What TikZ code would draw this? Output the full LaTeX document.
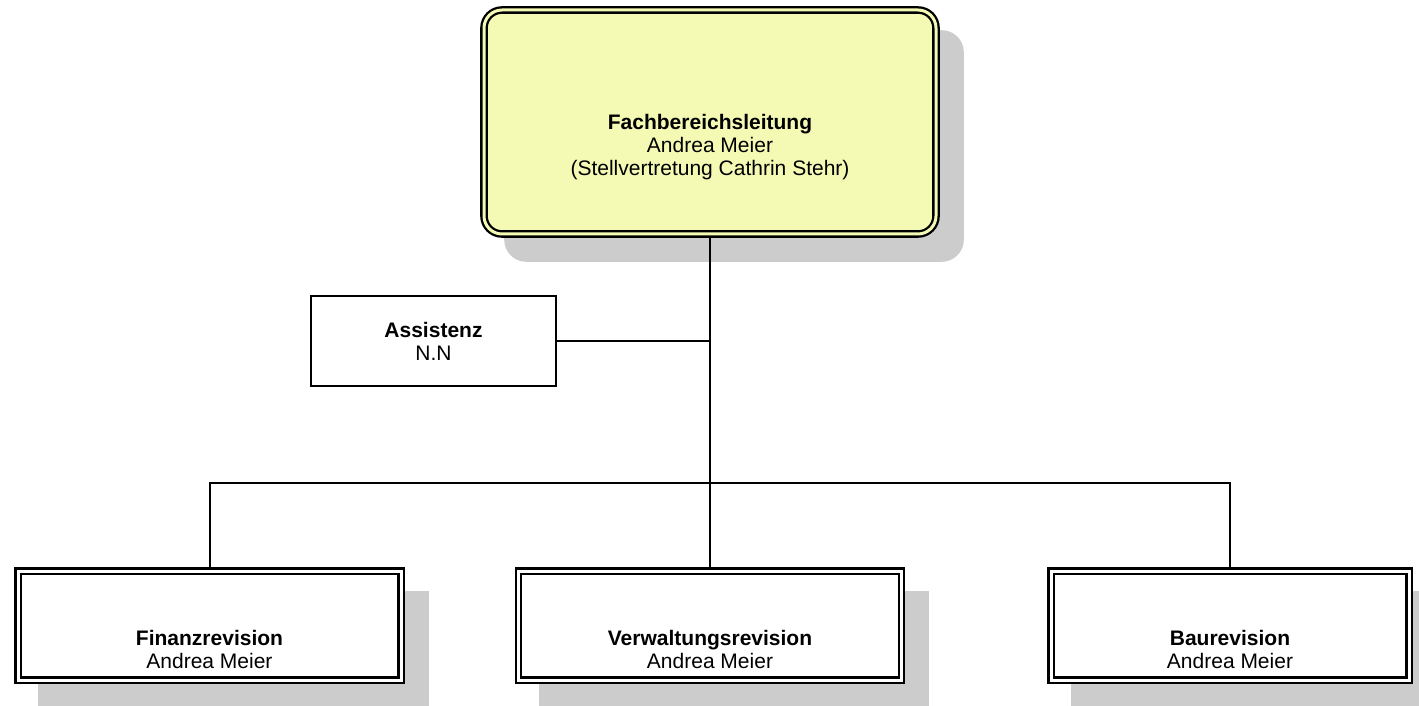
\documentclass[tikz,border=0pt]{standalone}
\usepackage{fontspec}
\setmainfont{Liberation Sans}
\usepackage{xcolor}
\usetikzlibrary{backgrounds}
\definecolor{leadfill}{RGB}{244,250,180}
\definecolor{shadowgray}{RGB}{204,204,204}

\begin{document}
\begin{tikzpicture}[scale=1.000000,x=1pt,y=1pt,
  every node/.style={font=\fontsize{21}{23}\selectfont, align=center},
  conn/.style={draw=black, line width=2pt},
  dblbox/.style={draw=black, line width=2.3pt, double distance=3pt, outer sep=3.8pt, inner sep=0pt},
  leadbox/.style={dblbox, double=leadfill, fill=leadfill, rounded corners=18pt, minimum width=452pt, minimum height=224pt},
  unitbox/.style={dblbox, double=white, fill=white, minimum height=109pt},
  assistbox/.style={draw=black, fill=white, line width=2pt, outer sep=1pt, minimum width=245pt, minimum height=90pt},
  boxtext/.style={inner sep=0pt},
  shadowbox/.style={fill=shadowgray}]
\useasboundingbox (0.000000, 0.000000) rectangle (1419.000000, 705.000000);
% Drawing boxes
% Box 1: lead
\node[leadbox] (lead) at (710.000000, 583.000000) {};
\node[boxtext] (lead-text) at ([yshift=-25]lead.center) {\textbf{Fachbereichsleitung}\\Andrea Meier\\(Stellvertretung Cathrin Stehr)};
% Box 2: assist
\node[assistbox] (assist) at (433.500000, 364.000000) {\textbf{Assistenz}\\N.N};
% Box 3-5: units
\node[unitbox, minimum width=383pt] (fin) at (209.500000, 79.500000) {};
\node[boxtext] (fin-text) at ([yshift=-24]fin.center) {\textbf{Finanzrevision}\\Andrea Meier};
\node[unitbox, minimum width=383pt] (verw) at (710.000000, 79.500000) {};
\node[boxtext] (verw-text) at ([yshift=-24]verw.center) {\textbf{Verwaltungsrevision}\\Andrea Meier};
\node[unitbox, minimum width=358pt] (bau) at (1230.000000, 79.500000) {};
\node[boxtext] (bau-text) at ([yshift=-24]bau.center) {\textbf{Baurevision}\\Andrea Meier};
% Done with boxes; drawing shadows
\begin{scope}[on background layer]
\fill[white] (0.000000, 0.000000) rectangle (1419.000000, 705.000000);
\fill[shadowbox, rounded corners=22pt] ([shift={(24,-24)}]lead.south west) rectangle ([shift={(24,-24)}]lead.north east);
\foreach \unit in {fin, verw, bau}
  \fill[shadowbox] ([shift={(24,-24)}]\unit.south west) rectangle ([shift={(24,-24)}]\unit.north east);
\end{scope}
% Done with shadows; drawing connectors
\coordinate (bus) at (710.000000, 222.000000);
\draw[conn] (lead.south) -- (verw.north);
\draw[conn] (assist.east) -- (assist.east -| lead.south);
\draw[conn] (fin.north) -- (fin.north |- bus) -- (bau.north |- bus) -- (bau.north);
% Done with connectors
\end{tikzpicture}
\end{document}
